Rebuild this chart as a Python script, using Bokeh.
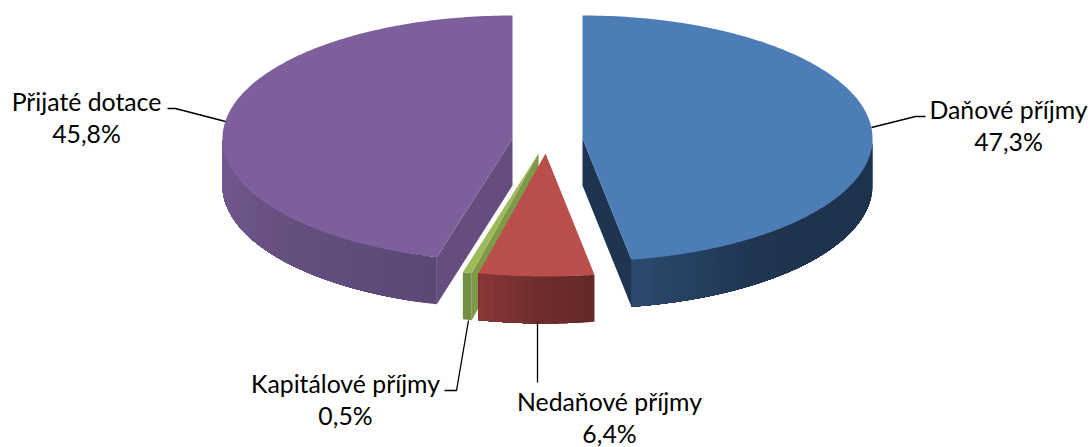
import numpy as np
from bokeh.plotting import figure
from bokeh.models import Range1d, ColumnDataSource
from bokeh.core.properties import value
from bokeh.embed import file_html
from bokeh.resources import INLINE

categories = ["Daňové příjmy", "Nedaňové příjmy", "Kapitálové příjmy", "Přijaté dotace"]
shares = [47.3, 6.4, 0.5, 45.8]

# drawing style and layout of each slice (pixel frame of the page)
apex_x = [582, 545, 538, 512]
apex_y = [138, 153, 153, 138]
top_colors = ["#4C7DB7", "#BA4E4A", "#9BBB59", "#7D5F9B"]
radial_colors = ["#1E3450", None, "#7E9A48", "#654E7F"]
# side colour from the slice's clockwise start towards its end
side_stops = [["#1E334D", "#1E334D", "#1F3550", "#2B4A6E"],
              ["#642828", "#702D2D", "#883636"],
              ["#728F43", "#728F43", "#728F43"],
              ["#5B4876", "#66507F", "#745A93"]]
label_x = [1008, 609, 345, 86]
label_y = [109, 401, 383, 101]
leaders_x = [[871, 915, 925], [537, 537], [468, 456, 444], [225, 175, 167]]
leaders_y = [[127, 116, 116], [322, 382], [320, 390, 390], [121, 108, 108]]

RX, RY, DEPTH = 290, 123, 47
FONT = "Lato"
FONT_SIZE = "24.8px"
LINE_STEP = 32


def rim(i, theta):
    t = np.radians(theta)
    return apex_x[i] + RX * np.sin(t), apex_y[i] - RY * np.cos(t)


def mix(stops, f):
    rgb = [np.array([int(c[k:k + 2], 16) for k in (1, 3, 5)], float) for c in stops]
    f = f * (len(rgb) - 1)
    j = min(int(f), len(rgb) - 2)
    c = rgb[j] + (rgb[j + 1] - rgb[j]) * (f - j)
    return "#%02x%02x%02x" % tuple(int(round(v)) for v in c)


edges = np.concatenate([[0], np.cumsum(shares)]) * 3.6 * 100 / sum(shares)

p = figure(width=1091, height=447, x_range=Range1d(0, 1091), y_range=Range1d(447, 0),
           x_axis_type=None, y_axis_type=None, toolbar_location=None,
           output_backend="svg", min_border=0)
p.outline_line_color = None
p.grid.visible = False

for i in [3, 0, 2, 1]:
    a, b = edges[i], edges[i + 1]
    # radial cut face, seen when the slice's cut edge faces the viewer
    if radial_colors[i]:
        theta = b if i == 0 else a
        ex, ey = rim(i, theta)
        p.patch([apex_x[i], ex, ex, apex_x[i]],
                [apex_y[i], ey, ey + DEPTH, apex_y[i] + DEPTH],
                fill_color=radial_colors[i], line_color=None)
    # outer wall: overlapping pieces that each run to the wall's far end, so no seams show
    lo, hi = max(a, 90), min(b, 270)
    ticks = np.linspace(lo, hi, max(2, int((hi - lo) / 1.5) + 1))
    xs, ys, cols = [], [], []
    for k in range(len(ticks) - 1):
        ax, ay = rim(i, np.linspace(ticks[k], hi, 60))
        xs.append(np.r_[ax, ax[::-1]])
        ys.append(np.r_[ay, ay[::-1] + DEPTH])
        cols.append(mix(side_stops[i], k / max(1, len(ticks) - 2)))
    p.patches(xs, ys, fill_color=cols, line_color=None)
    # top face
    th = np.linspace(a, b, 181)
    rx, ry = rim(i, th)
    p.patch(np.r_[apex_x[i], rx], np.r_[apex_y[i], ry],
            fill_color=top_colors[i], line_color=None)

for lx, ly in zip(leaders_x, leaders_y):
    p.line(lx, ly, line_color="black", line_width=1.3)

pct = [f"{v:.1f}%".replace(".", ",") for v in shares]
txt = ColumnDataSource(dict(
    x=label_x + label_x,
    y=label_y + [y + LINE_STEP for y in label_y],
    t=categories + pct,
))
p.text("x", "y", text="t", source=txt, text_align="center", text_baseline="alphabetic",
       text_font=value(FONT), text_font_size=value(FONT_SIZE), text_color="#000000")

open("out.html", "w").write(file_html(p, INLINE))
